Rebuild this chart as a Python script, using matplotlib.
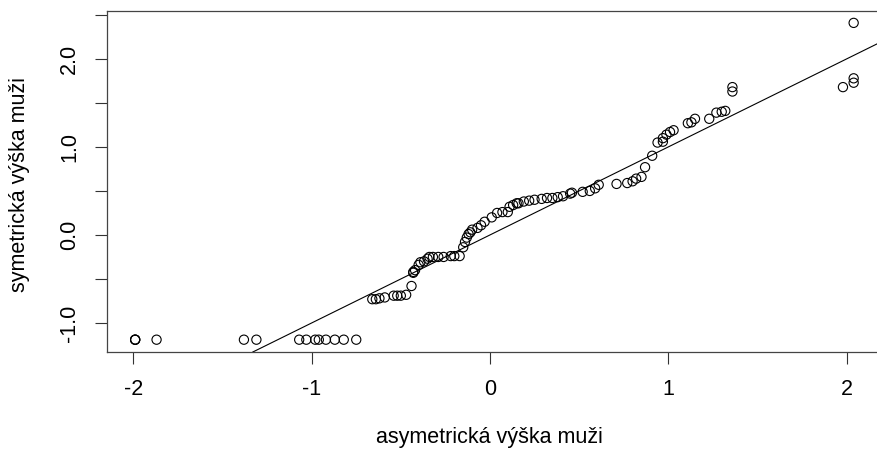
import matplotlib
matplotlib.use('Agg')
import matplotlib.pyplot as plt

# QQ-style pairs (sorted)
x_vals = [-1.99, -1.99, -1.99, -1.87, -1.38, -1.31, -1.07, -1.03, -0.98, -0.96,
          -0.92, -0.87, -0.82, -0.75,
          -0.66, -0.64, -0.62, -0.59, -0.54, -0.52, -0.50, -0.47, -0.44,
          -0.43, -0.43, -0.42, -0.40, -0.39, -0.37, -0.35, -0.34,
          -0.32, -0.29, -0.26, -0.22, -0.20, -0.17,
          -0.15, -0.14, -0.13, -0.12, -0.11, -0.10, -0.07, -0.05, -0.03,
          0.01, 0.04, 0.07, 0.10, 0.11, 0.13, 0.15, 0.16, 0.19, 0.22, 0.25,
          0.29, 0.32, 0.35, 0.38, 0.41, 0.45, 0.46, 0.52, 0.56, 0.59, 0.61,
          0.71, 0.77, 0.80, 0.82, 0.85, 0.87, 0.91, 0.94, 0.97, 0.97, 0.99,
          1.01, 1.03, 1.11, 1.13, 1.15, 1.23, 1.27, 1.30, 1.32, 1.36, 1.36,
          1.98, 2.04, 2.04, 2.04]
y_vals = [-1.19, -1.19, -1.19, -1.19, -1.19, -1.19, -1.19, -1.19, -1.19, -1.19,
          -1.19, -1.19, -1.19, -1.19,
          -0.73, -0.73, -0.72, -0.71, -0.69, -0.69, -0.69, -0.68, -0.58,
          -0.43, -0.42, -0.40, -0.34, -0.31, -0.30, -0.27, -0.25,
          -0.25, -0.25, -0.25, -0.24, -0.24, -0.24,
          -0.14, -0.08, -0.03, 0.01, 0.03, 0.06, 0.08, 0.11, 0.15,
          0.20, 0.25, 0.26, 0.26, 0.32, 0.34, 0.36, 0.36, 0.38, 0.39, 0.40,
          0.41, 0.42, 0.42, 0.43, 0.44, 0.47, 0.48, 0.49, 0.50, 0.53, 0.57,
          0.58, 0.59, 0.61, 0.64, 0.66, 0.77, 0.90, 1.05, 1.06, 1.10, 1.14,
          1.17, 1.19, 1.27, 1.28, 1.32, 1.32, 1.39, 1.40, 1.41, 1.63, 1.68,
          1.68, 1.73, 1.78, 2.41]

line_intercept = 0.0
line_slope = 1.0

x_ticks = [-2, -1, 0, 1, 2]
x_tick_labels = ['-2', '-1', '0', '1', '2']
y_ticks = [-1.0, -0.5, 0.0, 0.5, 1.0, 1.5, 2.0, 2.5]
y_tick_labels = ['-1.0', '', '0.0', '', '1.0', '', '2.0', '']

x_label = 'asymetrická výška muži'
y_label = 'symetrická výška muži'

plt.rcParams['font.family'] = ['Liberation Sans', 'DejaVu Sans']

W, H = 877, 459
fig = plt.figure(figsize=(W / 100, H / 100), dpi=100)
ax = fig.add_axes([107 / W, (H - 352) / H, 775 / W, 341 / H])

ax.scatter(x_vals, y_vals, s=44, facecolors='none', edgecolors='black',
           linewidths=0.8, zorder=3)
ax.axline((0, line_intercept), slope=line_slope, color='black', lw=0.8, zorder=2)

ax.set_xlim(-2.148, 2.199)
ax.set_ylim(-1.33, 2.545)

ax.set_xticks(x_ticks)
ax.set_xticklabels(x_tick_labels)
ax.set_yticks(y_ticks)
ax.set_yticklabels(y_tick_labels, rotation=90, va='center')

ax.tick_params(axis='both', direction='out', length=8.5, width=0.8,
               color='#333333', labelsize=15.5, pad=11)
for s in ax.spines.values():
    s.set_color('#444444')
    s.set_linewidth(0.9)

ax.set_xlabel(x_label, fontsize=15.5, va='center')
ax.xaxis.set_label_coords((489 - 107) / 775, (352 - 437) / 341)
ax.set_ylabel(y_label, fontsize=15.5, va='center')
ax.yaxis.set_label_coords((20 - 107) / 775, (352 - 184) / 341)

fig.savefig('out.png', dpi=100)
